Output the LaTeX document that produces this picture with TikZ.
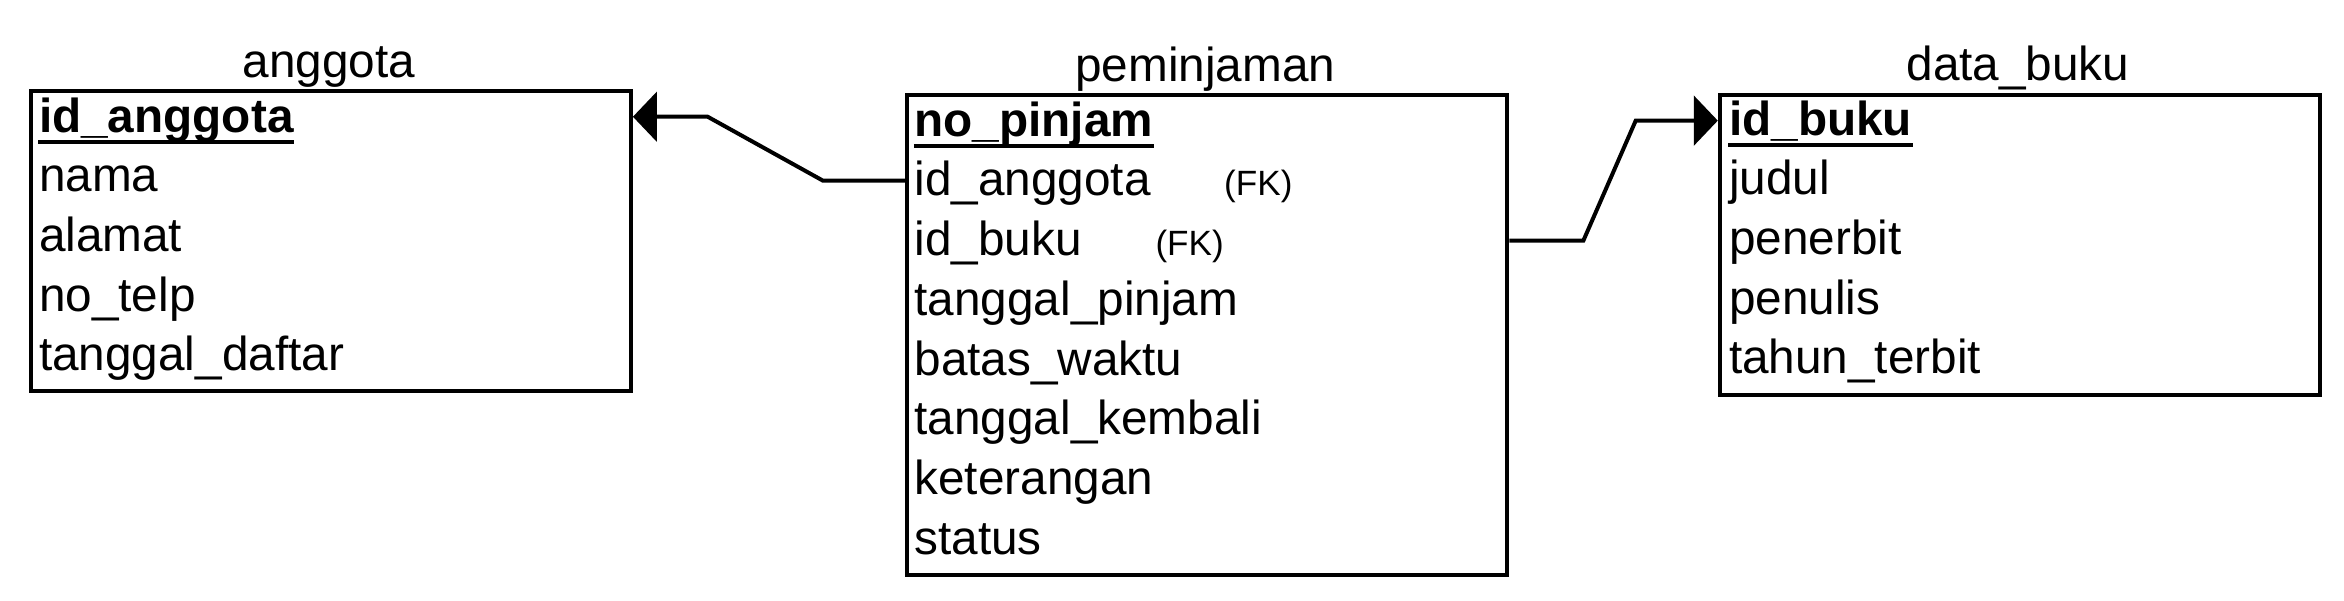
\documentclass[tikz,border=0pt]{standalone}
\usepackage{fontspec}
\setmainfont{Liberation Sans}
\usetikzlibrary{arrows.meta}
\begin{document}
\begin{tikzpicture}[x=0.5pt,y=-0.5pt,
  tbl/.style={draw, line width=1.33pt, inner sep=0pt, anchor=north west},
  ttl/.style={anchor=base, inner sep=0pt, font=\fontsize{15.9}{19}\selectfont},
  fld/.style={anchor=base west, inner sep=0pt, font=\fontsize{15.9}{19}\selectfont},
  pk/.style={anchor=base west, inner sep=0pt, font=\fontsize{15.9}{19}\selectfont\bfseries},
  fk/.style={anchor=base west, inner sep=0pt, font=\fontsize{11.7}{14}\selectfont},
  ul/.style={line width=1.3pt},
  rel/.style={line width=1.33pt, -{Triangle[length=8pt,width=16.5pt]}}]
\useasboundingbox (0,0) rectangle (1562,400);

% ---------- anggota ----------
\node[tbl, minimum width=200pt, minimum height=100pt] (A) at (19.1,59.1) {};
\node[ttl] (At) at (219.1,51.6) {anggota};
\node[pk]  (A1) at (25.6,88)    {id\_anggota};
\node[fld] (A2) at (25.6,127.8) {nama};
\node[fld] (A3) at (25.6,167.6) {alamat};
\node[fld] (A4) at (25.6,207.4) {no\_telp};
\node[fld] (A5) at (25.6,247.2) {tanggal\_daftar};
\draw[ul] ([yshift=-3.3pt]A1.base west) -- ([yshift=-3.3pt]A1.base east);

% ---------- peminjaman ----------
\node[tbl, minimum width=200pt, minimum height=160pt] (P) at (603.1,62) {};
\node[ttl] (Pt) at (803.1,54.3) {peminjaman};
\node[pk]  (P1) at (609,90.8)  {no\_pinjam};
\node[fld] (P2) at (609,130.6) {id\_anggota};
\node[fld] (P3) at (609,170.4) {id\_buku};
\node[fld] (P4) at (609,210.2) {tanggal\_pinjam};
\node[fld] (P5) at (609,250.0) {batas\_waktu};
\node[fld] (P6) at (609,289.8) {tanggal\_kembali};
\node[fld] (P7) at (609,329.6) {keterangan};
\node[fld] (P8) at (609,369.4) {status};
\node[fk]  (F1) at (815.4,130.6) {(FK)};
\node[fk]  (F2) at (769.6,170.4) {(FK)};
\draw[ul] ([yshift=-3.3pt]P1.base west) -- ([yshift=-3.3pt]P1.base east);

% ---------- data_buku ----------
\node[tbl, minimum width=200pt, minimum height=100pt] (B) at (1144.7,62) {};
\node[ttl] (Bt) at (1344.7,53.5) {data\_buku};
\node[pk]  (B1) at (1151.8,90)    {id\_buku};
\node[fld] (B2) at (1151.8,129.8) {judul};
\node[fld] (B3) at (1151.8,169.6) {penerbit};
\node[fld] (B4) at (1151.8,209.4) {penulis};
\node[fld] (B5) at (1151.8,249.2) {tahun\_terbit};
\draw[ul] ([yshift=-3.3pt]B1.base west) -- ([yshift=-3.3pt]B1.base east);

% ---------- relations ----------
\coordinate (r1a) at (548.4,120.4);
\coordinate (r1b) at (471.6,77.8);
\draw[rel] (r1a -| P.west) -- (r1a) -- (r1b) -- (r1b -| A.east);

\coordinate (r2a) at (1055.1,160.4);
\coordinate (r2b) at (1090,80.4);
\draw[rel] (r2a -| P.east) -- (r2a) -- (r2b) -- (r2b -| B.west);
\end{tikzpicture}
\end{document}
